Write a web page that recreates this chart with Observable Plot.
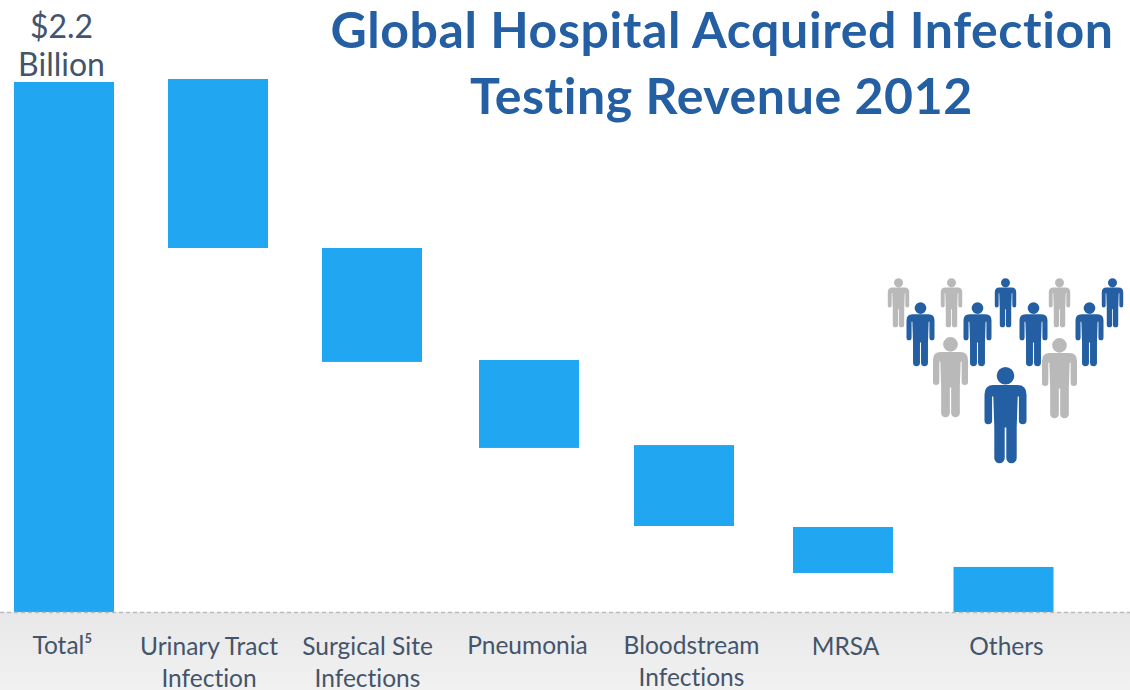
<!DOCTYPE html>
<html>
<head>
<meta charset="utf-8">
<script src="https://cdn.jsdelivr.net/npm/d3@7"></script>
<script src="https://cdn.jsdelivr.net/npm/@observablehq/plot@0.6"></script>
<style>
html,body{margin:0;padding:0;background:#fff;overflow:hidden}
svg{display:block;font-variant-ligatures:none}
.chart-title text{letter-spacing:.6px}
</style>
</head>
<body>
<div id="chart"></div>
<script>
// Revenue segments, in $ billions
const categories = ["Total⁵","Urinary Tract\nInfection","Surgical Site\nInfections","Pneumonia","Bloodstream\nInfections","MRSA","Others"];
const barTop    = [2.2, 2.2125, 1.511, 1.046, 0.693, 0.353, 0.187];
const barBottom = [0,   1.511,  1.038, 0.681, 0.357, 0.162, 0];

// Layout (not data)
const barCentres   = [64, 218, 372, 529, 684, 843, 1003.5];
const labelCentres = [62, 208.5, 367, 527, 691, 845, 1006];
const labelTops    = [631, 632, 632, 631, 631, 632, 632];
const barWidth = 100;

const W = 1130, H = 690, base = 612, unit = 530 / 2.2;
const at = px => (base - px) / unit;   // page row -> chart units

const bars = categories.map((c, i) => ({c, x: barCentres[i], top: barTop[i], bottom: barBottom[i]}));
const labels = categories.map((c, i) => ({c, x: labelCentres[i], y: at(labelTops[i])}));

// Pictogram crowd
const blue = "#245fa3", grey = "#b9b9b9";
const crowdX = [1005, 950, 1059, 920, 977, 1033, 1089, 898, 951, 1005, 1059, 1112];
const crowdMid = [415, 377, 378, 334, 334, 334, 334, 302.5, 302.5, 302.5, 302.5, 302.5];
const crowdHeight = [96, 80, 80, 64, 64, 64, 64, 49, 49, 49, 49, 49];
const crowdColor = [blue, grey, grey, blue, blue, blue, blue, grey, grey, blue, grey, blue];
const crowd = crowdX.map((x, i) => ({x, y: at(crowdMid[i]), h: crowdHeight[i], color: crowdColor[i]}));

const personSymbol = h => ({
  draw(ctx) {
    const k = h / 96, X = v => v * k, Y = v => (v - 48) * k;
    ctx.moveTo(X(8.8), Y(8.3));
    ctx.arc(0, Y(8.3), 8.8 * k, 0, 2 * Math.PI);
    ctx.closePath();
    ctx.moveTo(X(-12), Y(17.5));
    ctx.lineTo(X(12), Y(17.5));
    ctx.quadraticCurveTo(X(21), Y(17.5), X(21), Y(27));
    ctx.lineTo(X(21), Y(53));
    ctx.arc(X(17.2), Y(53), 3.8 * k, 0, Math.PI);
    ctx.lineTo(X(13.4), Y(29));
    ctx.lineTo(X(12.2), Y(29));
    ctx.lineTo(X(11.2), Y(60));
    ctx.lineTo(X(11.2), Y(90.5));
    ctx.arc(X(6), Y(90.5), 5.2 * k, 0, Math.PI);
    ctx.lineTo(X(0.8), Y(60));
    ctx.lineTo(X(-0.8), Y(60));
    ctx.lineTo(X(-0.8), Y(90.5));
    ctx.arc(X(-6), Y(90.5), 5.2 * k, 0, Math.PI);
    ctx.lineTo(X(-11.2), Y(60));
    ctx.lineTo(X(-12.2), Y(29));
    ctx.lineTo(X(-13.4), Y(29));
    ctx.lineTo(X(-13.4), Y(53));
    ctx.arc(X(-17.2), Y(53), 3.8 * k, 0, Math.PI);
    ctx.lineTo(X(-21), Y(27));
    ctx.quadraticCurveTo(X(-21), Y(17.5), X(-12), Y(17.5));
    ctx.closePath();
  }
});

const titleLines = ["Global Hospital Acquired Infection", "Testing Revenue 2012"];
const titleX = [721.5, 721];
const titleRows = [31, 97];

const font = "Lato, 'Open Sans', sans-serif";
const ink = "#44546a";

// Soft vertical gradient for the label band
const bandGradient = () => {
  const defs = d3.create("svg:defs");
  const g = defs.append("linearGradient").attr("id", "band").attr("x1", 0).attr("x2", 0).attr("y1", 0).attr("y2", 1);
  g.append("stop").attr("offset", "0%").attr("stop-color", "#e8e8e8");
  g.append("stop").attr("offset", "100%").attr("stop-color", "#f1f1f1");
  return defs.node();
};

const chart = Plot.plot({
  width: W, height: H,
  margin: 0,
  style: {background: "#fff", fontFamily: font, overflow: "visible"},
  x: {domain: [0, W], range: [0, W], axis: null},
  y: {domain: [at(H), at(0)], range: [H, 0], axis: null},
  marks: [
    bandGradient,
    Plot.rect([0], {x1: 0, x2: W, y1: at(H), y2: 0, fill: "url(#band)"}),
    Plot.rect(bars, {x1: d => d.x - barWidth / 2, x2: d => d.x + barWidth / 2, y1: "bottom", y2: "top", fill: "#21a7f1"}),
    Plot.ruleY([0], {stroke: "#b8bcc2", strokeWidth: 1.5, strokeDasharray: "4,3"}),
    Plot.text(labels, {x: "x", y: "y", text: "c", fill: ink, fontSize: 24.5, lineAnchor: "top", lineHeight: 1.3, fontFamily: font}),
    Plot.text(["$2.2", "Billion"], {x: [61, 61], y: [at(27), at(65)], text: d => d, fill: ink, fontSize: 32, lineAnchor: "middle", fontFamily: font}),
    Plot.text(titleLines, {x: titleX, y: titleRows.map(at), text: d => d, fill: "#245fa3", fontSize: 50, fontWeight: 700, lineAnchor: "middle", fontFamily: font, className: "chart-title"}),
    ...crowd.map(p => Plot.dot([p], {x: "x", y: "y", r: 10, fill: p.color, stroke: "none", symbol: personSymbol(p.h)}))
  ]
});
document.getElementById("chart").appendChild(chart);
</script>
</body>
</html>
